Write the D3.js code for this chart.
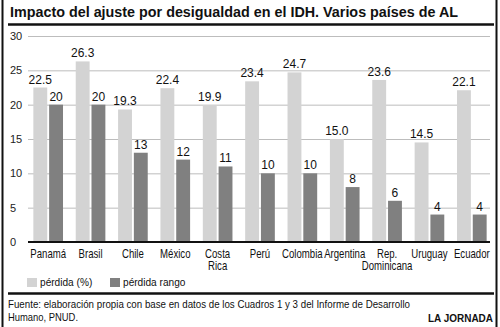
<!DOCTYPE html>
<html>
<head>
<meta charset="utf-8">
<script src="https://cdn.jsdelivr.net/npm/d3@7"></script>
<style>
  body { margin: 0; background: #fff; }
  svg { display: block; font-family: "Liberation Sans", Arial, sans-serif; }
</style>
</head>
<body>
<div id="chart"></div>
<script>
const countries = ["Panamá", "Brasil", "Chile", "México", "Costa Rica", "Perú", "Colombia", "Argentina", "Rep. Dominicana", "Uruguay", "Ecuador"];
const countryLines = [["Panamá"], ["Brasil"], ["Chile"], ["México"], ["Costa", "Rica"], ["Perú"], ["Colombia"], ["Argentina"], ["Rep.", "Dominicana"], ["Uruguay"], ["Ecuador"]];
const perdidaPct = [22.5, 26.3, 19.3, 22.4, 19.9, 23.4, 24.7, 15.0, 23.6, 14.5, 22.1];
const perdidaRango = [20, 20, 13, 12, 11, 10, 10, 8, 6, 4, 4];
const yTicks = [0, 5, 10, 15, 20, 25, 30];
const seriesNames = ["pérdida (%)", "pérdida rango"];
const seriesColors = ["#d3d3d3", "#808080"];

const W = 500, H = 327;
const svg = d3.select("#chart").append("svg")
    .attr("width", W)
    .attr("height", H);

// frame
svg.append("line").attr("x1", 2.5).attr("x2", 2.5).attr("y1", 0).attr("y2", H)
    .attr("stroke", "#111").attr("stroke-width", 2);
svg.append("line").attr("x1", 496.5).attr("x2", 496.5).attr("y1", 0).attr("y2", H)
    .attr("stroke", "#111").attr("stroke-width", 2);

// title
svg.append("text")
    .attr("x", 10).attr("y", 17)
    .attr("textLength", 448).attr("lengthAdjust", "spacingAndGlyphs")
    .style("font-size", "15px").style("font-weight", "bold")
    .attr("fill", "#111")
    .text("Impacto del ajuste por desigualdad en el IDH. Varios países de AL");

svg.append("line").attr("x1", 8).attr("x2", 494).attr("y1", 24.5).attr("y2", 24.5)
    .attr("stroke", "#111").attr("stroke-width", 2.5);

const y = d3.scaleLinear().domain([0, 30]).range([242, 36]);
const x0 = d3.scaleBand().domain(countries).range([27, 493]).paddingInner(0.3).paddingOuter(0.15);
const x1 = d3.scaleBand().domain([0, 1]).range([0, x0.bandwidth()]).paddingInner(0.12);

// gridlines + y labels
const yAxis = svg.append("g").attr("transform", "translate(28,0)")
    .call(d3.axisLeft(y).tickValues(yTicks).tickSize(-462).tickPadding(8));
yAxis.select(".domain").remove();
yAxis.selectAll(".tick line").attr("stroke", "#bdbdbd").attr("stroke-width", 1);
yAxis.selectAll(".tick text").attr("fill", "#222").style("font-size", "11px")
    .attr("text-anchor", "start").attr("x", -18);

const groups = svg.append("g").selectAll("g")
    .data(countries)
    .join("g")
    .attr("transform", d => `translate(${x0(d)},0)`);

[perdidaPct, perdidaRango].forEach((vals, s) => {
    groups.append("rect")
        .attr("x", x1(s))
        .attr("width", x1.bandwidth())
        .attr("y", (d, i) => y(vals[i]))
        .attr("height", (d, i) => y(0) - y(vals[i]))
        .attr("fill", seriesColors[s]);
    groups.append("text")
        .attr("x", x1(s) + x1.bandwidth() / 2)
        .attr("y", (d, i) => y(vals[i]) - 4)
        .attr("text-anchor", "middle")
        .style("font-size", "12px")
        .attr("fill", "#111")
        .text((d, i) => s === 0 ? vals[i].toFixed(1) : vals[i]);
});

// baseline
svg.append("line").attr("x1", 28).attr("x2", 490).attr("y1", y(0)).attr("y2", y(0))
    .attr("stroke", "#111").attr("stroke-width", 2);

// category labels (condensed look)
groups.append("text")
    .attr("transform", `translate(${x0.bandwidth() / 2},258) scale(0.8,1)`)
    .attr("text-anchor", "middle")
    .style("font-size", "12px")
    .attr("fill", "#111")
    .selectAll("tspan")
    .data((d, i) => countryLines[i])
    .join("tspan")
    .attr("x", 0)
    .attr("dy", (d, j) => j === 0 ? 0 : 12.5)
    .text(d => d);

// legend
const legendX = [27, 110];
seriesNames.forEach((name, s) => {
    svg.append("rect").attr("x", legendX[s]).attr("y", 278).attr("width", 10).attr("height", 9)
        .attr("fill", seriesColors[s]);
    svg.append("text")
        .attr("transform", `translate(${legendX[s] + 13},286) scale(0.88,1)`)
        .style("font-size", "11.5px").attr("fill", "#111").text(name);
});

svg.append("line").attr("x1", 8).attr("x2", 494).attr("y1", 293.5).attr("y2", 293.5)
    .attr("stroke", "#111").attr("stroke-width", 2.5);

// source
svg.append("text").attr("x", 8).attr("y", 308)
    .attr("textLength", 402).attr("lengthAdjust", "spacingAndGlyphs")
    .style("font-size", "10.5px").attr("fill", "#111")
    .text("Fuente: elaboración propia con base en datos de los Cuadros 1 y 3 del Informe de Desarrollo");
svg.append("text").attr("x", 8).attr("y", 321)
    .attr("textLength", 70).attr("lengthAdjust", "spacingAndGlyphs")
    .style("font-size", "10.5px").attr("fill", "#111")
    .text("Humano, PNUD.");
svg.append("text").attr("x", 493).attr("y", 322)
    .attr("text-anchor", "end")
    .attr("textLength", 65).attr("lengthAdjust", "spacingAndGlyphs")
    .style("font-size", "11px").style("font-weight", "bold").attr("fill", "#111")
    .text("LA JORNADA");
</script>
</body>
</html>
